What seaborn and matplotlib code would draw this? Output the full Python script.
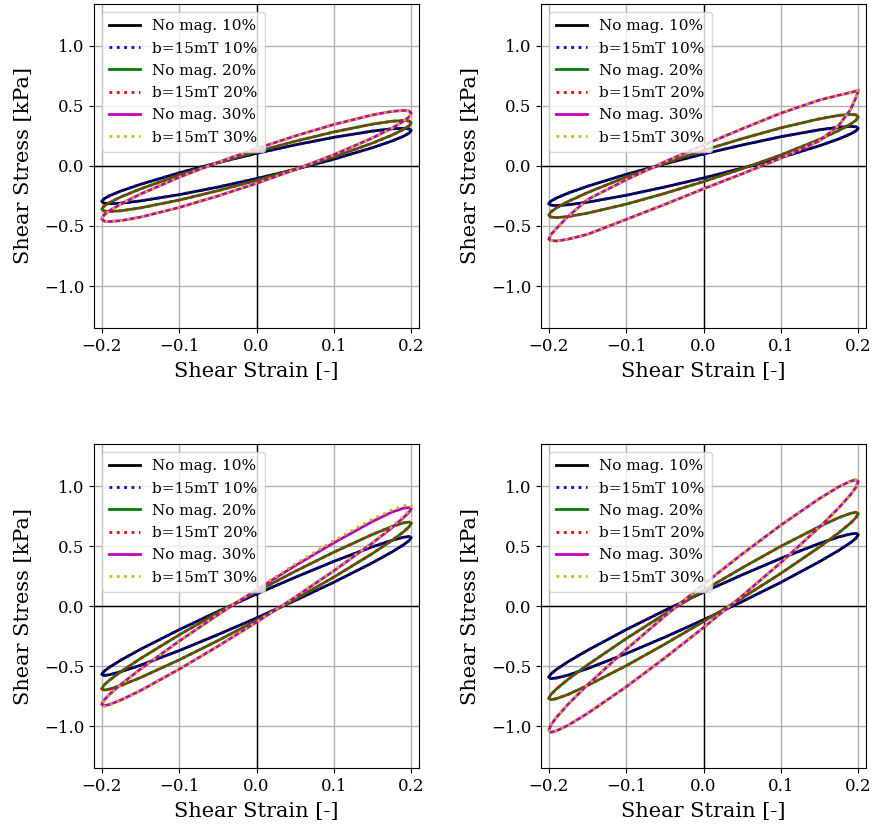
import matplotlib
matplotlib.use("Agg")
import matplotlib.pyplot as plt
import pandas as pd
import seaborn as sns

# strain sample positions (shared by every loop)
strain = [-0.2, -0.197, -0.19, -0.175, -0.15, -0.1, -0.05, 0.0,
          0.05, 0.1, 0.15, 0.175, 0.19, 0.197, 0.2]

# ---- top-left panel: upper branch (loading) / lower branch (unloading)
tl_10_up = [-0.296, -0.273, -0.248, -0.208, -0.153, -0.057, 0.028, 0.105,
            0.176, 0.239, 0.291, 0.310, 0.314, 0.310, 0.296]
tl_10_lo = [-0.296, -0.310, -0.314, -0.310, -0.291, -0.239, -0.176, -0.105,
            -0.028, 0.057, 0.153, 0.208, 0.248, 0.273, 0.296]
tl_20_up = [-0.36, -0.334, -0.305, -0.257, -0.191, -0.076, 0.026, 0.12,
            0.206, 0.284, 0.349, 0.373, 0.379, 0.375, 0.36]
tl_20_lo = [-0.36, -0.375, -0.379, -0.373, -0.349, -0.284, -0.206, -0.12,
            -0.026, 0.076, 0.191, 0.257, 0.305, 0.334, 0.36]
tl_30_up = [-0.44, -0.408, -0.373, -0.315, -0.234, -0.094, 0.030, 0.145,
            0.250, 0.346, 0.426, 0.455, 0.463, 0.459, 0.44]
tl_30_lo = [-0.44, -0.459, -0.463, -0.455, -0.426, -0.346, -0.250, -0.145,
            -0.030, 0.094, 0.234, 0.315, 0.373, 0.408, 0.44]

# ---- top-right panel
tr_10_up = [-0.314, -0.292, -0.267, -0.226, -0.169, -0.070, 0.018, 0.10,
            0.175, 0.244, 0.302, 0.323, 0.330, 0.327, 0.314]
tr_10_lo = [-0.314, -0.327, -0.330, -0.323, -0.302, -0.244, -0.175, -0.10,
            -0.018, 0.070, 0.169, 0.226, 0.267, 0.292, 0.314]
tr_20_up = [-0.41, -0.381, -0.349, -0.296, -0.222, -0.092, 0.023, 0.13,
            0.228, 0.318, 0.393, 0.422, 0.430, 0.426, 0.41]
tr_20_lo = [-0.41, -0.426, -0.430, -0.422, -0.393, -0.318, -0.228, -0.13,
            -0.023, 0.092, 0.222, 0.296, 0.349, 0.381, 0.41]
tr_30_up = [-0.61, -0.57, -0.52, -0.42, -0.28, -0.115, 0.035, 0.175,
            0.31, 0.44, 0.55, 0.59, 0.612, 0.625, 0.633]
tr_30_lo = [-0.61, -0.62, -0.625, -0.61, -0.57, -0.445, -0.32, -0.19,
            -0.065, 0.065, 0.21, 0.34, 0.47, 0.57, 0.633]

# ---- bottom-left panel
bl_10_up = [-0.57, -0.544, -0.510, -0.450, -0.361, -0.198, -0.046, 0.10,
            0.239, 0.372, 0.494, 0.547, 0.573, 0.579, 0.57]
bl_10_lo = [-0.57, -0.579, -0.573, -0.547, -0.494, -0.372, -0.239, -0.10,
            0.046, 0.198, 0.361, 0.450, 0.510, 0.544, 0.57]
bl_20_up = [-0.69, -0.659, -0.618, -0.546, -0.438, -0.241, -0.056, 0.12,
            0.289, 0.449, 0.597, 0.662, 0.693, 0.700, 0.69]
bl_20_lo = [-0.69, -0.700, -0.693, -0.662, -0.597, -0.449, -0.289, -0.12,
            0.056, 0.241, 0.438, 0.546, 0.618, 0.659, 0.69]
bl_30_up = [-0.82, -0.784, -0.737, -0.652, -0.526, -0.293, -0.074, 0.135,
            0.336, 0.527, 0.705, 0.783, 0.815, 0.820, 0.81]
bl_30_lo = [-0.82, -0.831, -0.821, -0.783, -0.705, -0.527, -0.336, -0.135,
            0.074, 0.293, 0.526, 0.652, 0.737, 0.780, 0.81]
bl_30m_up = [-0.83, -0.792, -0.742, -0.655, -0.528, -0.293, -0.070, 0.14,
             0.350, 0.545, 0.725, 0.800, 0.835, 0.842, 0.835]
bl_30m_lo = [-0.83, -0.838, -0.826, -0.786, -0.706, -0.527, -0.336, -0.135,
             0.076, 0.296, 0.530, 0.660, 0.748, 0.795, 0.835]

# ---- bottom-right panel
br_10_up = [-0.594, -0.565, -0.528, -0.464, -0.370, -0.197, -0.037, 0.115,
            0.260, 0.397, 0.522, 0.576, 0.600, 0.605, 0.594]
br_10_lo = [-0.594, -0.605, -0.600, -0.576, -0.522, -0.397, -0.260, -0.115,
            0.037, 0.197, 0.370, 0.464, 0.528, 0.565, 0.594]
br_20_up = [-0.77, -0.736, -0.691, -0.611, -0.492, -0.272, -0.067, 0.13,
            0.318, 0.498, 0.663, 0.737, 0.772, 0.781, 0.77]
br_20_lo = [-0.77, -0.781, -0.772, -0.737, -0.663, -0.498, -0.318, -0.13,
            0.067, 0.272, 0.492, 0.611, 0.691, 0.736, 0.77]
br_30_up = [-1.036, -0.989, -0.928, -0.819, -0.658, -0.362, -0.085, 0.18,
            0.433, 0.674, 0.896, 0.994, 1.040, 1.052, 1.036]
br_30_lo = [-1.036, -1.052, -1.040, -0.994, -0.896, -0.674, -0.433, -0.18,
            0.085, 0.362, 0.658, 0.819, 0.928, 0.989, 1.036]

labels = ["No mag. 10%", "b=15mT 10%", "No mag. 20%",
          "b=15mT 20%", "No mag. 30%", "b=15mT 30%"]
colors = ["k", "b", "g", "r", "m", "y"]
styles = ["-", ":", "-", ":", "-", ":"]

xticks = [-0.2, -0.1, 0.0, 0.1, 0.2]
yticks = [-1.0, -0.5, 0.0, 0.5, 1.0]

panels = [
    [(tl_10_up, tl_10_lo), (tl_10_up, tl_10_lo), (tl_20_up, tl_20_lo),
     (tl_20_up, tl_20_lo), (tl_30_up, tl_30_lo), (tl_30_up, tl_30_lo)],
    [(tr_10_up, tr_10_lo), (tr_10_up, tr_10_lo), (tr_20_up, tr_20_lo),
     (tr_20_up, tr_20_lo), (tr_30_up, tr_30_lo), (tr_30_up, tr_30_lo)],
    [(bl_10_up, bl_10_lo), (bl_10_up, bl_10_lo), (bl_20_up, bl_20_lo),
     (bl_20_up, bl_20_lo), (bl_30_up, bl_30_lo), (bl_30m_up, bl_30m_lo)],
    [(br_10_up, br_10_lo), (br_10_up, br_10_lo), (br_20_up, br_20_lo),
     (br_20_up, br_20_lo), (br_30_up, br_30_lo), (br_30_up, br_30_lo)],
]


def loop_frame(up, lo):
    # start at zero strain on the loading branch, go to +max, unload to -max,
    # reload back to zero strain
    xs = strain[7:] + strain[::-1] + strain[1:8]
    ys = up[7:] + lo[::-1] + up[1:8]
    return pd.DataFrame({"strain": xs, "stress": ys})


plt.rcParams["font.family"] = ["DejaVu Serif"]
plt.rcParams["axes.unicode_minus"] = True

fig = plt.figure(figsize=(8.75, 8.3), dpi=100)
W, H = 875.0, 830.0
boxes = [(94, 4), (541, 4), (94, 444), (541, 444)]
aw, ah = 325.0, 324.0

for (px, py), series in zip(boxes, panels):
    ax = fig.add_axes([px / W, 1 - (py + ah) / H, aw / W, ah / H])
    ax.axhline(0, color="k", lw=1, zorder=1)
    ax.axvline(0, color="k", lw=1, zorder=1)
    for (up, lo), lab, col, ls in zip(series, labels, colors, styles):
        df = loop_frame(up, lo)
        sns.lineplot(data=df, x="strain", y="stress", sort=False,
                     estimator=None, color=col, linestyle=ls, linewidth=2,
                     label=lab, ax=ax)
    ax.set_xlim(-0.21, 0.21)
    ax.set_ylim(-1.35, 1.35)
    ax.set_xticks(xticks)
    ax.set_yticks(yticks)
    ax.grid(True, color="#b0b0b0", lw=1)
    ax.set_axisbelow(True)
    ax.tick_params(labelsize=12)
    ax.set_xlabel("Shear Strain [-]", fontsize=15, labelpad=5.5)
    ax.set_ylabel("Shear Stress [kPa]", fontsize=15, labelpad=8)
    ax.legend(loc="upper left", fontsize=11, handlelength=2.0,
              borderpad=0.5, labelspacing=0.54)

fig.savefig("out.png", dpi=100)
